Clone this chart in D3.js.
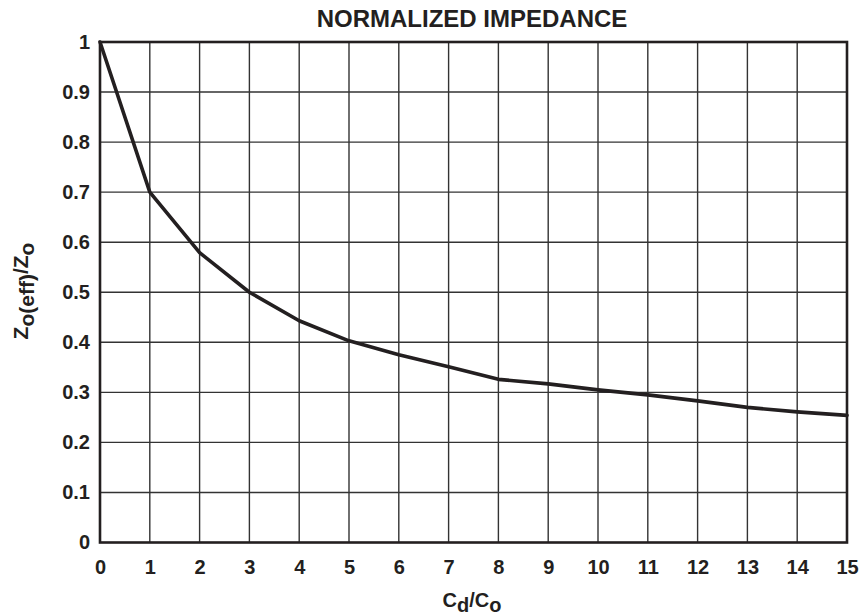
<!DOCTYPE html>
<html>
<head>
<meta charset="utf-8">
<script src="https://cdn.jsdelivr.net/npm/d3@7"></script>
<style>
  html, body { margin: 0; padding: 0; background: #fff; }
  svg { display: block; }
  text { font-family: "Liberation Sans", Arial, sans-serif; font-weight: bold; fill: #231f20; }
</style>
</head>
<body>
<svg id="chart" width="860" height="616"></svg>
<script>
// ---- data ----
const ratioCdCo = [0, 1, 2, 3, 4, 5, 6, 7, 8, 9, 10, 11, 12, 13, 14, 15];
const normImpedance = [1.0, 0.70, 0.579, 0.50, 0.443, 0.403, 0.375, 0.351, 0.326, 0.317, 0.305, 0.295, 0.283, 0.270, 0.261, 0.254];
const xTickValues = [0, 1, 2, 3, 4, 5, 6, 7, 8, 9, 10, 11, 12, 13, 14, 15];
const xTickLabels = ["0","1","2","3","4","5","6","7","8","9","10","11","12","13","14","15"];
const yTickValues = [0, 0.1, 0.2, 0.3, 0.4, 0.5, 0.6, 0.7, 0.8, 0.9, 1];
const yTickLabels = ["0","0.1","0.2","0.3","0.4","0.5","0.6","0.7","0.8","0.9","1"];
const chartTitle = "NORMALIZED IMPEDANCE";

// ---- layout ----
const svg = d3.select("#chart");
const pLeft = 100, pRight = 847, pTop = 42, pBottom = 542.5;
const x = d3.scaleLinear().domain([0, 15]).range([pLeft, pRight]);
const y = d3.scaleLinear().domain([0, 1]).range([pBottom, pTop]);

// grid
const grid = svg.append("g").attr("stroke", "#333333").attr("stroke-width", 1.4);
grid.selectAll("line.v").data(xTickValues.slice(1, -1)).enter().append("line")
  .attr("class", "v")
  .attr("x1", d => x(d)).attr("x2", d => x(d)).attr("y1", pTop).attr("y2", pBottom);
grid.selectAll("line.h").data(yTickValues.slice(1, -1)).enter().append("line")
  .attr("class", "h")
  .attr("y1", d => y(d)).attr("y2", d => y(d)).attr("x1", pLeft).attr("x2", pRight);

// frame
svg.append("rect").attr("x", pLeft).attr("y", pTop)
  .attr("width", pRight - pLeft).attr("height", pBottom - pTop)
  .attr("fill", "none").attr("stroke", "#231f20").attr("stroke-width", 2.6);

// axes (labels only)
const xAxis = d3.axisBottom(x).tickValues(xTickValues)
  .tickFormat((d, i) => xTickLabels[i]).tickSize(0).tickPadding(17);
const gx = svg.append("g").attr("transform", `translate(0,${pBottom})`).call(xAxis);
gx.select(".domain").remove();
gx.selectAll("text").attr("font-size", 20).attr("font-family", "Liberation Sans, Arial, sans-serif")
  .attr("font-weight", "bold").attr("fill", "#231f20");

const yAxis = d3.axisLeft(y).tickValues(yTickValues)
  .tickFormat((d, i) => yTickLabels[i]).tickSize(0).tickPadding(10);
const gy = svg.append("g").attr("transform", `translate(${pLeft},0)`).call(yAxis);
gy.select(".domain").remove();
gy.selectAll("text").attr("font-size", 20).attr("font-family", "Liberation Sans, Arial, sans-serif")
  .attr("font-weight", "bold").attr("fill", "#231f20");

// curve
const line = d3.line().x((d, i) => x(ratioCdCo[i])).y(d => y(d));
svg.append("path").datum(normImpedance)
  .attr("d", line).attr("fill", "none")
  .attr("stroke", "#231f20").attr("stroke-width", 3.6)
  .attr("stroke-linejoin", "round").attr("stroke-linecap", "round");

// title
svg.append("text").attr("x", 472).attr("y", 27).attr("text-anchor", "middle")
  .attr("font-size", 24).text(chartTitle);

// x axis title
const xt = svg.append("text").attr("x", 472).attr("y", 607).attr("text-anchor", "middle").attr("font-size", 20);
xt.append("tspan").text("C");
xt.append("tspan").attr("dy", 5).text("d");
xt.append("tspan").attr("dy", -5).text("/C");
xt.append("tspan").attr("dy", 5).text("o");

// y axis title
const yt = svg.append("text").attr("transform", "translate(28,291) rotate(-90)")
  .attr("text-anchor", "middle").attr("font-size", 21);
yt.append("tspan").text("Z");
yt.append("tspan").attr("dy", 6).text("o(eff)");
yt.append("tspan").attr("dy", -6).text("/Z");
yt.append("tspan").attr("dy", 6).text("o");
</script>
</body>
</html>
